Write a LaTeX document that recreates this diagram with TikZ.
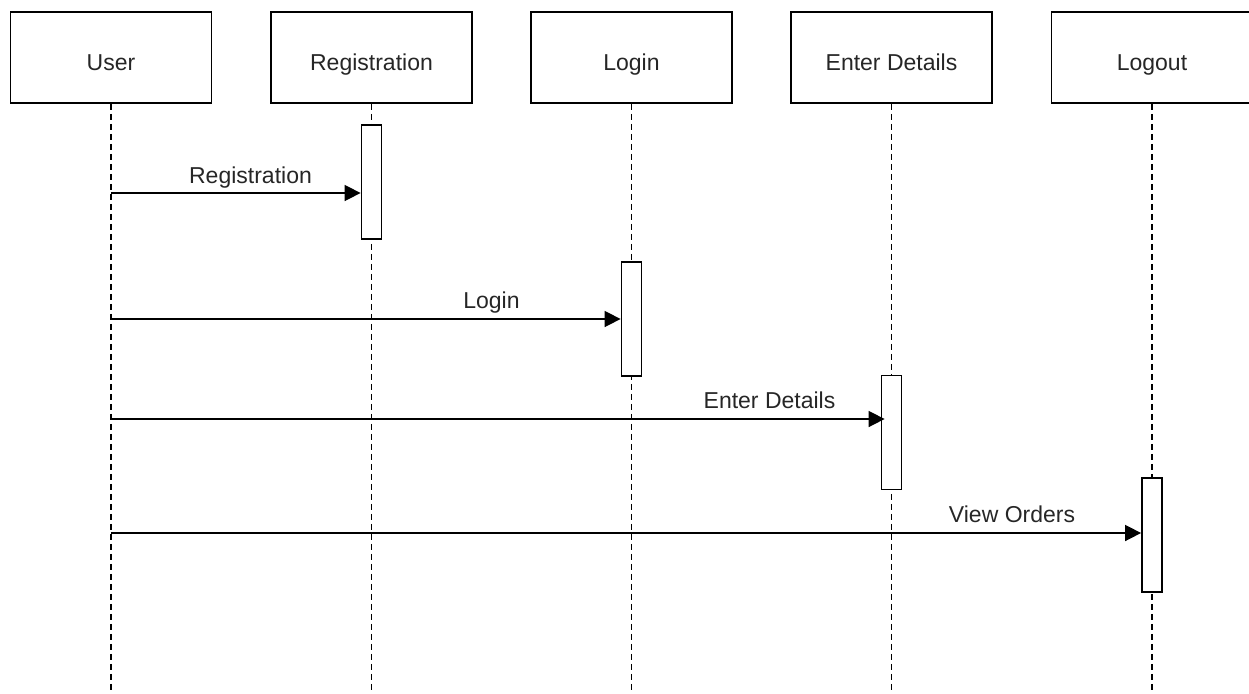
\documentclass[tikz,border=0pt]{standalone}
\usepackage{fontspec}
\setmainfont{Liberation Sans}
\usetikzlibrary{arrows.meta}
\definecolor{ink}{HTML}{262626}
\tikzset{
  head/.style={draw=black, line width=1.8pt, fill=white, minimum width=201pt,
    minimum height=91pt, inner sep=0pt, text=ink, text height=26.4pt, text depth=0pt,
    font=\fontsize{23}{27}\selectfont},
  bar/.style={draw=black, line width=1.8pt, fill=white, minimum width=20pt,
    inner sep=0pt},
  life/.style={draw=black, line width=1.3pt, dash pattern=on 6pt off 4pt},
  msg/.style={draw=black, line width=1.6pt, -{Triangle[length=16pt,width=16pt]}},
  lbl/.style={anchor=base, text=ink, font=\fontsize{23}{27}\selectfont, inner sep=0pt}
}
\begin{document}
\begin{tikzpicture}[x=1pt, y=-1pt]
\useasboundingbox (0,0) rectangle (1249,693);

% participants
\node[head] (user)  at (111,57.5)    {User};
\node[head] (reg)   at (371.5,57.5)  {Registration};
\node[head] (login) at (631.5,57.5)  {Login};
\node[head] (det)   at (891.5,57.5)  {Enter Details};
\node[head] (out)   at (1152,57.5)   {Logout};

% lifeline ends
\coordinate (userE)  at (111,693);
\coordinate (regE)   at (371.5,693);
\coordinate (loginE) at (631.5,693);
\coordinate (detE)   at (891.5,693);
\coordinate (outE)   at (1152,693);

\draw[life] (user.south)  -- (userE);
\draw[life] (reg.south)   -- (regE);
\draw[life] (login.south) -- (loginE);
\draw[life] (det.south)   -- (detE);
\draw[life] (out.south)   -- (outE);

% activation bars
\node[bar, minimum height=114pt] (regbar)   at (371.5,182) {};
\node[bar, minimum height=114pt] (loginbar) at (631.5,319) {};
\node[bar, minimum height=114pt] (detbar)   at (891.5,432.5) {};
\node[bar, minimum height=114pt] (outbar)   at (1152,535) {};

% message start points on the user lifeline
\coordinate (m1) at (111,193);
\coordinate (m2) at (111,319);
\coordinate (m3) at (111,419);
\coordinate (m4) at (111,533);

\draw[msg] (m1) -- (m1 -| regbar.west);
\draw[msg] (m2) -- (m2 -| loginbar.west);
\draw[msg] (m3) -- ([xshift=4pt]m3 -| detbar.west);
\draw[msg] (m4) -- (m4 -| outbar.west);

% message labels
\node[lbl] (l1) at (250.5,183) {Registration};
\node[lbl] (l2) at (491.5,308) {Login};
\node[lbl] (l3) at (769.5,408) {Enter Details};
\node[lbl] (l4) at (1012,522) {View Orders};
\end{tikzpicture}
\end{document}
